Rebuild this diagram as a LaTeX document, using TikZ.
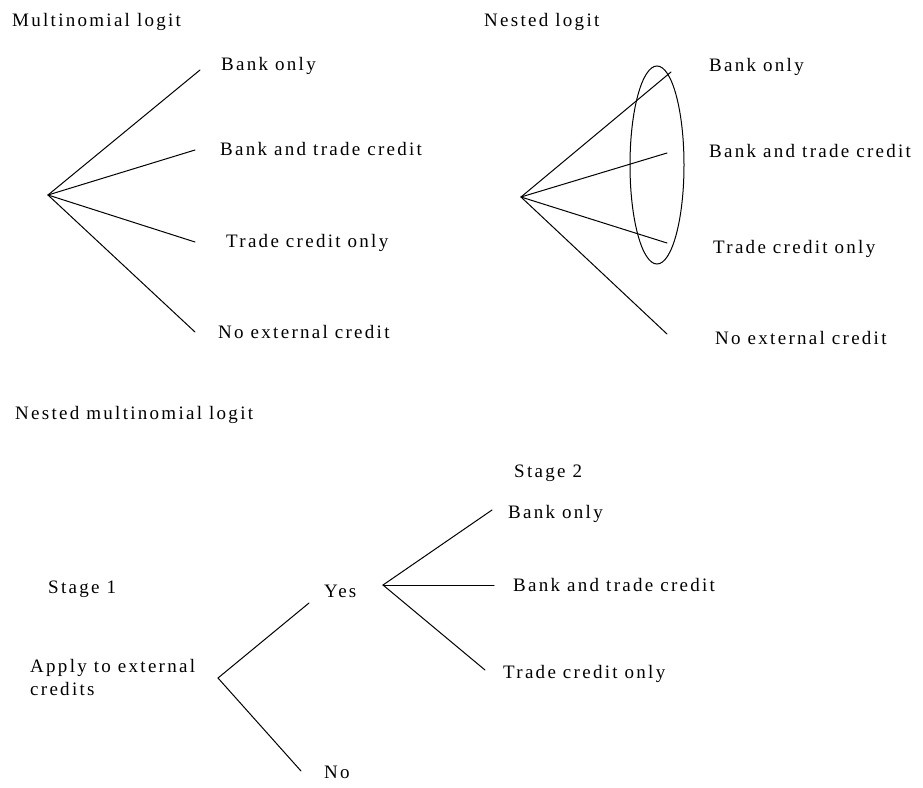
\documentclass[tikz,border=0pt]{standalone}
\usepackage{fontspec}
\setmainfont{Liberation Serif}[LetterSpace=12]
\usetikzlibrary{shapes.geometric}
\begin{document}
\begin{tikzpicture}[x=1pt,y=-1pt,
  lbl/.style={anchor=base west, inner sep=0pt, font=\fontsize{19}{23}\selectfont},
  branch/.style={line width=1pt, line cap=round}]
\useasboundingbox (0,0) rectangle (923,787);

% ---------- Multinomial logit ----------
\node[lbl] (t1) at (12,26) {Multinomial logit};
\coordinate (r1) at (48,195);
\coordinate (e1a) at (200,70);
\coordinate (e1b) at (195,150);
\coordinate (e1c) at (195,242);
\coordinate (e1d) at (195,332);
\node[lbl] (l1a) at (221,70) {Bank only};
\node[lbl] (l1b) at (220,155) {Bank and trade credit};
\node[lbl] (l1c) at (226,247) {Trade credit only};
\node[lbl] (l1d) at (218,338) {No external credit};
\draw[branch] (r1) -- (e1a);
\draw[branch] (r1) -- (e1b);
\draw[branch] (r1) -- (e1c);
\draw[branch] (r1) -- (e1d);

% ---------- Nested logit ----------
\node[lbl] (t2) at (484,27) {Nested logit};
\coordinate (r2) at (521,197);
\coordinate (e2a) at (671,72);
\coordinate (e2b) at (667,153);
\coordinate (e2c) at (667,243);
\coordinate (e2d) at (667,334);
\node[draw, ellipse, line width=1pt, minimum width=54pt, minimum height=198pt, inner sep=0pt] (nest) at (657,165) {};
\node[lbl] (l2a) at (709,71) {Bank only};
\node[lbl] (l2b) at (709,157) {Bank and trade credit};
\node[lbl] (l2c) at (713,253) {Trade credit only};
\node[lbl] (l2d) at (715,344) {No external credit};
\draw[branch] (r2) -- (e2a);
\draw[branch] (r2) -- (e2b);
\draw[branch] (r2) -- (e2c);
\draw[branch] (r2) -- (e2d);

% ---------- Nested multinomial logit ----------
\node[lbl] (t3) at (15,419) {Nested multinomial logit};
\node[lbl] (s1) at (48,593) {Stage 1};
\node[lbl] (s2) at (514,477) {Stage 2};
\node[lbl, anchor=north west, align=left] (apply) at (30,659) {Apply to external\\credits};
\node[lbl] (yes) at (324,597) {Yes};
\node[lbl] (no) at (324,778) {No};
\coordinate (r3) at (218,678);
\coordinate (e3y) at (309,603);
\coordinate (e3n) at (301,771);
\coordinate (r4) at (383,585);
\coordinate (e4a) at (492,510);
\coordinate (e4b) at (494,585);
\coordinate (e4c) at (485,670);
\node[lbl] (l3a) at (508,518) {Bank only};
\node[lbl] (l3b) at (513,591) {Bank and trade credit};
\node[lbl] (l3c) at (503,678) {Trade credit only};
\draw[branch] (r3) -- (e3y);
\draw[branch] (r3) -- (e3n);
\draw[branch] (r4) -- (e4a);
\draw[branch] (r4) -- (e4b);
\draw[branch] (r4) -- (e4c);
\end{tikzpicture}
\end{document}
